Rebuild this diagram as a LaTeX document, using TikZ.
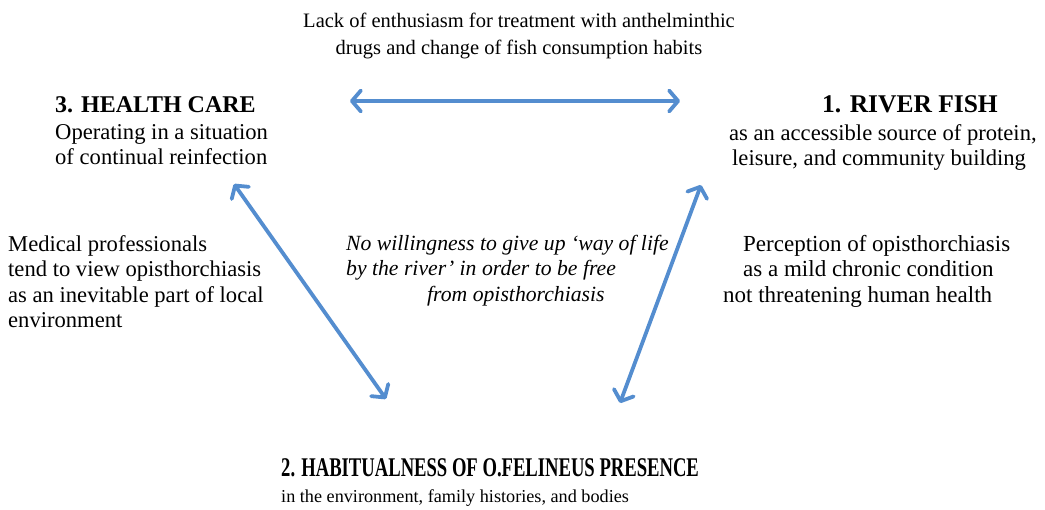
\documentclass[tikz,border=0pt]{standalone}
\usepackage{fontspec}
\setmainfont{Liberation Serif}
\usepackage{graphicx}
\usetikzlibrary{arrows.meta,positioning}
\definecolor{arrowblue}{RGB}{84,141,207}

\begin{document}
\begin{tikzpicture}
		[x=1pt,y=-1pt,
		every node/.style={inner sep=0pt,font=\fontsize{20.5}{27}\selectfont},
		body/.style={font=\fontsize{22.6}{25.5}\selectfont},
		heading/.style={font=\fontsize{24}{28}\selectfont\bfseries},
		link/.style={arrowblue,line width=3.8pt,line cap=round,
			{Straight Barb[length=9pt,width=21pt,line cap=round,line join=round]}-{Straight Barb[length=9pt,width=21pt,line cap=round,line join=round]}}]
		\useasboundingbox (0,0) rectangle (1045,510);
		\node[anchor=north,align=center] (lack) at (519,13)
		{Lack of enthusiasm for treatment with anthelminthic\\drugs and change of fish consumption habits};
		%%
		\node[heading,anchor=base west] (care) at (55,113) {3. HEALTH CARE};
		\node[body,anchor=north west,align=left] (caretxt) at (55,124)
		{Operating in a situation\\of continual reinfection};
		%%
		\node[heading,anchor=base,font=\fontsize{25.5}{28}\selectfont\bfseries] (fish) at (910,113) {1. RIVER FISH};
		\node[body,anchor=north west,align=left] (fishtxt) at (729,124)
		{as an accessible source of protein,\\\hspace*{3pt}leisure, and community building};
		%%
		\node[body,anchor=north west,align=left] (medical) at (8,235)
		{Medical professionals\\tend to view opisthorchiasis\\as an inevitable part of local\\environment};
		\node[anchor=north west,align=left,font=\fontsize{21.7}{25.5}\selectfont\itshape] (willing) at (346,235)
		{No willingness to give up `way of life\\by the river' in order to be free\\\hspace*{81pt}from opisthorchiasis};
		\node[anchor=north west,align=left,font=\fontsize{23}{25.5}\selectfont] (percep) at (723,235)
		{\hspace*{20pt}Perception of opisthorchiasis\\\hspace*{20pt}as a mild chronic condition\\not threatening human health};
		%%
		\node[anchor=base west] (habit) at (281,477)
		{\fontsize{27}{30}\selectfont\bfseries\scalebox{0.69}[1]{2. HABITUALNESS OF O.FELINEUS PRESENCE}};
		\node[anchor=north west,font=\fontsize{18.2}{22}\selectfont] (habittxt) at (281,489)
		{in the environment, family histories, and bodies};
		%%
		\coordinate (careend) at (350,101);
		\coordinate (fishend) at (680,101);
		\coordinate (careleg) at (234,184);
		\coordinate (habitleft) at (386,399);
		\coordinate (fishleg) at (701,185);
		\coordinate (habitright) at (620,403);
		\path
		\foreach \startNode/\endNode in {careend/fishend,careleg/habitleft,fishleg/habitright}
		{
			(\startNode) edge[link] (\endNode)
		};
\end{tikzpicture}
\end{document}
